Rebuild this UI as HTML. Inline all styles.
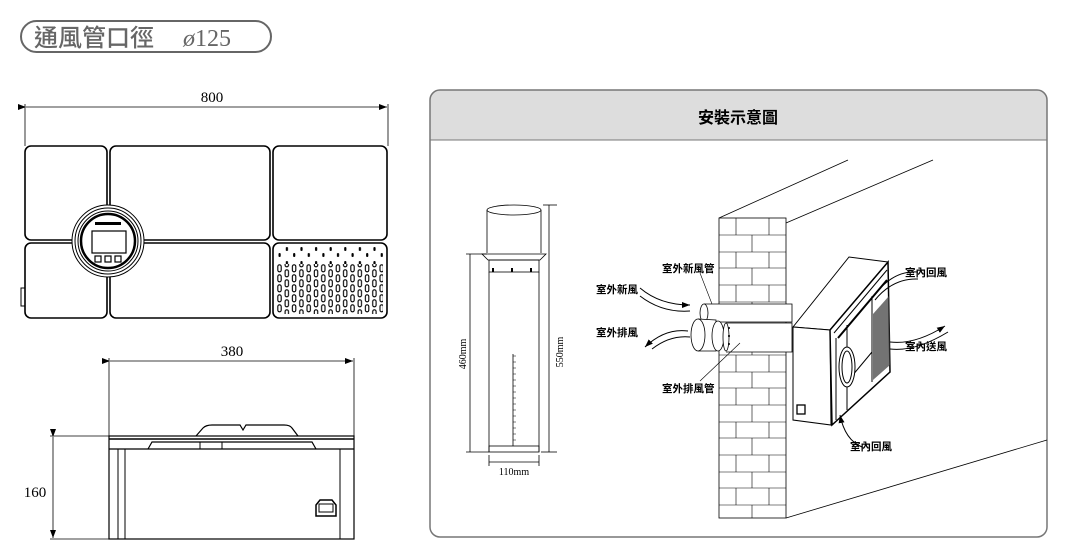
<!DOCTYPE html>
<html><head><meta charset="utf-8"><style>
html,body{margin:0;padding:0;background:#fff;}
svg{display:block;}
.t{font-family:"Liberation Serif",serif;}
.c{font-family:"Liberation Sans","Noto Sans CJK TC",sans-serif;font-weight:bold;}
</style></head><body>
<svg width="1068" height="560" viewBox="0 0 1068 560" xmlns="http://www.w3.org/2000/svg" fill="none" stroke="#000">
<defs>
<marker id="ar" markerWidth="8" markerHeight="6" refX="8" refY="3" orient="auto" markerUnits="userSpaceOnUse"><path d="M0,0 L8,3 L0,6 Z" fill="#000" stroke="none"/></marker>
<pattern id="big" x="277" y="264" width="14.6" height="10" patternUnits="userSpaceOnUse">
<rect x="0.8" y="0.8" width="3.4" height="7" rx="1.7" stroke="#000" stroke-width="1.1" fill="none"/>
<rect x="8.1" y="5.8" width="3.4" height="7" rx="1.7" stroke="#000" stroke-width="1.1" fill="none"/>
<rect x="8.1" y="-4.2" width="3.4" height="7" rx="1.7" stroke="#000" stroke-width="1.1" fill="none"/>
</pattern>
<pattern id="small" x="277" y="247" width="14.6" height="14" patternUnits="userSpaceOnUse">
<rect x="1.5" y="6" width="2.2" height="4" rx="1" fill="#000" stroke="none"/>
<rect x="8.8" y="0" width="2.2" height="4" rx="1" fill="#000" stroke="none"/>
</pattern>
</defs>
<!-- title pill -->
<rect x="21" y="21" width="250" height="31" rx="15.5" stroke="#666" stroke-width="2"/>
<text x="34" y="46" font-family="'Noto Sans CJK TC',sans-serif" font-weight="500" font-size="24" fill="#666" stroke="none">通風管口徑</text>
<text x="183" y="46" class="t" font-size="24" fill="#666" stroke="none"><tspan font-style="italic">ø</tspan>125</text>

<!-- front view -->
<text x="212" y="102" class="t" font-size="15" fill="#000" stroke="none" text-anchor="middle">800</text>
<line x1="26" y1="107" x2="387" y2="107" stroke-width="0.8" marker-start="url(#ar)" marker-end="url(#ar)"/>
<line x1="25" y1="104" x2="25" y2="146" stroke-width="0.8"/>
<line x1="388" y1="104" x2="388" y2="146" stroke-width="0.8"/>
<g stroke-width="1.6">
<rect x="25" y="146" width="82" height="94" rx="6"/>
<rect x="110" y="146" width="160" height="94" rx="6"/>
<rect x="273" y="146" width="114" height="94" rx="6"/>
<rect x="25" y="243" width="82" height="75" rx="6"/>
<rect x="110" y="243" width="160" height="75" rx="6"/>
<rect x="273" y="243" width="114" height="75" rx="6"/>
</g>
<rect x="277" y="247" width="106" height="17" fill="url(#small)" stroke="none"/>
<rect x="277" y="264" width="106" height="50" fill="url(#big)" stroke="none"/>
<rect x="21" y="288" width="4" height="18" stroke-width="1"/>
<circle cx="108" cy="241" r="36" fill="#fff" stroke-width="1"/>
<circle cx="108" cy="241" r="33" stroke-width="1"/>
<circle cx="108" cy="241" r="30" stroke-width="1"/>
<circle cx="108" cy="241" r="27" stroke-width="2.5"/>
<rect x="92" y="231" width="34" height="22" stroke-width="1.2"/>
<rect x="95" y="222" width="26" height="3" fill="#000" stroke="none"/>
<rect x="95" y="256" width="6" height="6" stroke-width="1.2"/>
<rect x="105" y="256" width="6" height="6" stroke-width="1.2"/>
<rect x="115" y="256" width="6" height="6" stroke-width="1.2"/>

<!-- side view -->
<text x="232" y="356" class="t" font-size="15" fill="#000" stroke="none" text-anchor="middle">380</text>
<line x1="110" y1="361" x2="353" y2="361" stroke-width="0.8" marker-start="url(#ar)" marker-end="url(#ar)"/>
<line x1="109" y1="358" x2="109" y2="436" stroke-width="0.8"/>
<line x1="354" y1="358" x2="354" y2="436" stroke-width="0.8"/>
<path d="M196 436 L203 428 Q206 425 212 425 L240 425 L243 430 L246 425 L284 425 Q290 425 292 428 L298 436" stroke-width="1.2"/>
<rect x="109" y="436" width="245" height="103" stroke-width="1.2"/>
<line x1="109" y1="439" x2="354" y2="439" stroke-width="1.5"/>
<line x1="109" y1="449" x2="354" y2="449" stroke-width="1.2"/>
<path d="M148 449 L152 442 L312 442 L316 449" stroke-width="1.2"/>
<rect x="200" y="442" width="22" height="7" stroke-width="1"/>
<line x1="118" y1="449" x2="118" y2="539" stroke-width="1"/>
<line x1="125" y1="449" x2="125" y2="539" stroke-width="1"/>
<line x1="340" y1="449" x2="340" y2="539" stroke-width="1"/>
<path d="M316 505 L320 500 L332 500 L336 505 L336 516 L316 516 Z" stroke-width="1.5"/>
<rect x="319" y="504" width="14" height="8" stroke-width="1"/>
<text x="35" y="497" class="t" font-size="15" fill="#000" stroke="none" text-anchor="middle">160</text>
<line x1="53" y1="437" x2="53" y2="538" stroke-width="0.8" marker-start="url(#ar)" marker-end="url(#ar)"/>
<line x1="50" y1="436" x2="109" y2="436" stroke-width="0.8"/>
<line x1="50" y1="539" x2="109" y2="539" stroke-width="0.8"/>

<!-- right panel -->
<path d="M430 140 L430 100 Q430 90 440 90 L1037 90 Q1047 90 1047 100 L1047 140 Z" fill="#ddd" stroke="none"/>
<rect x="430" y="90" width="617" height="447" rx="10" stroke="#777" stroke-width="1.5"/>
<line x1="430" y1="140" x2="1047" y2="140" stroke="#777" stroke-width="1"/>
<text x="738" y="123" class="c" font-size="16" fill="#000" stroke="none" text-anchor="middle">安裝示意圖</text>

<!-- pipe -->
<g stroke-width="0.8">
<ellipse cx="514" cy="210" rx="27" ry="5"/>
<line x1="487" y1="210" x2="487" y2="253"/>
<line x1="541" y1="210" x2="541" y2="253"/>
<path d="M482 254 L546 254 L540 260 L488 260 Z"/>
<rect x="489" y="260" width="50" height="12"/>
<path d="M493 272v-4M512 272v-4M531 272v-4" stroke-width="2"/>
<line x1="489" y1="272" x2="489" y2="452"/>
<line x1="539" y1="272" x2="539" y2="452"/>
<rect x="489" y="446" width="50" height="6"/>
<line x1="513" y1="354" x2="513" y2="446"/>
<path d="M513 356h3M513 362h3M513 368h3M513 374h3M513 380h3M513 386h3M513 392h3M513 398h3M513 404h3M513 410h3M513 416h3M513 422h3M513 428h3M513 434h3M513 440h3" stroke-width="0.5"/>
<line x1="470" y1="254" x2="470" y2="452"/><line x1="466" y1="254" x2="487" y2="254"/><line x1="466" y1="452" x2="489" y2="452"/>
<line x1="549" y1="205" x2="549" y2="452"/><line x1="543" y1="205" x2="557" y2="205"/><line x1="541" y1="452" x2="557" y2="452"/>
<line x1="489" y1="462" x2="539" y2="462"/><line x1="489" y1="455" x2="489" y2="466"/><line x1="539" y1="455" x2="539" y2="466"/>
</g>
<text x="466" y="354" class="t" font-size="10" fill="#000" stroke="none" text-anchor="middle" transform="rotate(-90 466 354)">460mm</text>
<text x="563" y="352" class="t" font-size="10" fill="#000" stroke="none" text-anchor="middle" transform="rotate(-90 563 352)">550mm</text>
<text x="514" y="475" class="t" font-size="10" fill="#000" stroke="none" text-anchor="middle">110mm</text>

<!-- wall -->
<g stroke-width="0.8">
<line x1="719" y1="218" x2="848" y2="160"/>
<line x1="786" y1="223" x2="933" y2="160"/>
<line x1="786" y1="518" x2="1047" y2="440"/>
<rect x="719" y="218" width="67" height="300" fill="#fff"/>
<g stroke-width="0.6">
<path d="M719 235h67M719 252h67M719 268h67M719 285h67M719 302h67M719 355h67M719 372h67M719 388h67M719 405h67M719 422h67M719 438h67M719 455h67M719 472h67M719 488h67M719 505h67"/>
<path d="M736 218v17M769 218v17M752 235v17M736 252v16M769 252v16M752 268v17M736 285v17M769 285v17M752 302v18M752 340v15M736 355v17M769 355v17M752 372v16M736 388v17M769 388v17M752 405v17M736 422v16M769 422v16M752 438v17M736 455v17M769 455v17M752 472v16M736 488v17M769 488v17M752 505v13"/>
</g>
</g>
<!-- pipes -->
<g stroke-width="0.8">
<path d="M704 304 L792 304 L792 322 L704 322" fill="#fff"/>
<ellipse cx="704" cy="313" rx="4" ry="9" fill="#fff"/>
<path d="M726 323 L792 323 L792 352 L726 352" fill="#fff"/>
<path d="M698 319 L716 320 L716 351 L698 351" fill="#fff"/>
<ellipse cx="698" cy="335" rx="7" ry="16" fill="#fff"/>
<ellipse cx="718" cy="336" rx="6" ry="15" fill="#fff"/>
<ellipse cx="726" cy="337" rx="3" ry="14" fill="#fff"/>
<path d="M728 328h2M728 336h2M728 344h2" stroke-width="1.5"/>
</g>
<!-- unit -->
<g stroke-width="1">
<polygon points="793,327 849,257 888,262 830,330" fill="#fff"/>
<polygon points="793,327 830,330 831,425 793,420" fill="#fff"/>
<polygon points="830,330 888,262 890,372 832,425" fill="#fff" stroke-width="1.5"/>
<polyline points="834,333 887,270" stroke-width="1"/>
<polyline points="838,338 887,280" stroke-width="2"/>
<polyline points="836,338 836,420"/>
<polyline points="847,325 847,410"/>
<polyline points="872,296 872,382"/>
<polyline points="847,382 872,352"/>
<ellipse cx="847" cy="367" rx="8" ry="20" fill="#fff"/>
<ellipse cx="847" cy="367" rx="5" ry="16"/>
<path d="M873 314 L889 296 L890 365 L873 380 Z" fill="#444" stroke="none" opacity="0.75"/>
<rect x="797" y="405" width="8" height="9" stroke-width="1.3"/>
</g>
<!-- arrows -->
<g stroke-width="1">
<path d="M640 288 Q660 305 690 305" marker-end="url(#ar)"/>
<path d="M640 296 Q662 313 690 311"/>
<path d="M688 331 Q665 328 645 347" marker-end="url(#ar)"/>
<path d="M690 337 Q670 335 652 349"/>
<path d="M877 292 Q895 270 918 272"/>
<path d="M875 300 Q893 278 918 279"/>
<path d="M890 342 Q915 345 945 326" marker-end="url(#ar)"/>
<path d="M890 349 Q915 352 948 332"/>
<path d="M862 447 Q845 440 840 415" marker-end="url(#ar)"/>
</g>
<g stroke-width="0.6">
<line x1="700" y1="273" x2="712" y2="304"/>
<line x1="740" y1="343" x2="700" y2="381"/>
</g>
<g class="c" font-size="10.5" fill="#000" stroke="none">
<text x="662" y="272">室外新風管</text>
<text x="596" y="293">室外新風</text>
<text x="596" y="336">室外排風</text>
<text x="662" y="392">室外排風管</text>
<text x="905" y="276">室內回風</text>
<text x="905" y="350">室內送風</text>
<text x="850" y="450">室內回風</text>
</g>
</svg>
</body></html>
